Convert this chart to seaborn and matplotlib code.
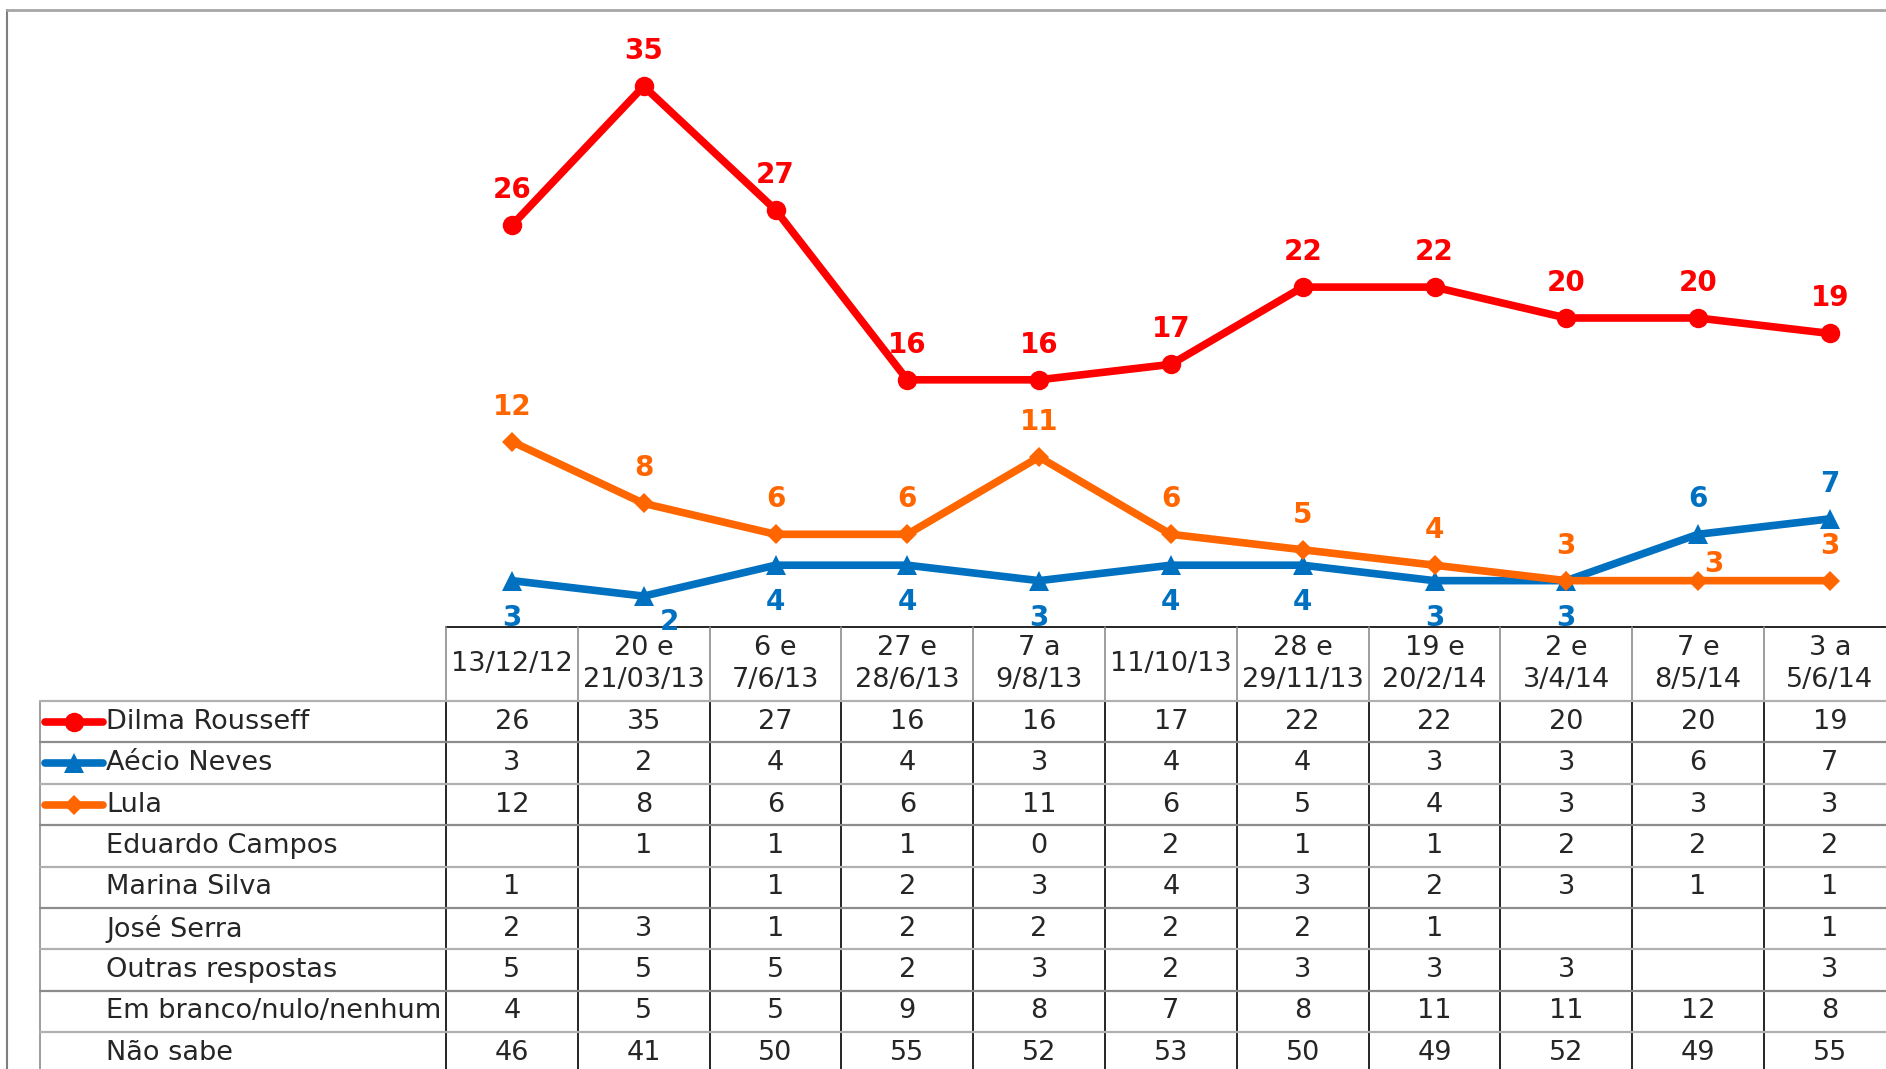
import numpy as np
import pandas as pd
import matplotlib.pyplot as plt
import seaborn as sns

# Survey dates (table header)
dates = ["13/12/12", "20 e\n21/03/13", "6 e\n7/6/13", "27 e\n28/6/13", "7 a\n9/8/13",
         "11/10/13", "28 e\n29/11/13", "19 e\n20/2/14", "2 e\n3/4/14", "7 e\n8/5/14",
         "3 a\n5/6/14"]

# Plotted series
dilma = [26, 35, 27, 16, 16, 17, 22, 22, 20, 20, 19]
aecio = [3, 2, 4, 4, 3, 4, 4, 3, 3, 6, 7]
lula = [12, 8, 6, 6, 11, 6, 5, 4, 3, 3, 3]

# Table-only rows (None = blank cell)
eduardo = [None, 1, 1, 1, 0, 2, 1, 1, 2, 2, 2]
marina = [1, None, 1, 2, 3, 4, 3, 2, 3, 1, 1]
serra = [2, 3, 1, 2, 2, 2, 2, 1, None, None, 1]
outras = [5, 5, 5, 2, 3, 2, 3, 3, 3, None, 3]
branco = [4, 5, 5, 9, 8, 7, 8, 11, 11, 12, 8]
nao_sabe = [46, 41, 50, 55, 52, 53, 50, 49, 52, 49, 55]

row_names = ["Dilma Rousseff", "Aécio Neves", "Lula", "Eduardo Campos", "Marina Silva",
             "José Serra", "Outras respostas", "Em branco/nulo/nenhum", "Não sabe"]
row_values = [dilma, aecio, lula, eduardo, marina, serra, outras, branco, nao_sabe]

RED, BLUE, ORANGE = "#ff0000", "#0070c0", "#ff6600"

sns.set_style("white")
plt.rcParams["font.family"] = ["DejaVu Sans"]

W, H = 1886, 1069
fig = plt.figure(figsize=(W / 100, H / 100), dpi=100)

# layout (pixels)
tab_left = 40
lab_right = 446
col_w = 131.8
head_top = 627
head_bot = 701
row_h = 41.4
plot_top = 9
n = len(dates)
TXT = 19.5
LW = 5.5

# table / frame axes in pixel coordinates
tab = fig.add_axes([0, 0, 1, 1])
tab.set_xlim(0, W)
tab.set_ylim(H, 0)
tab.axis("off")

# outer chart frame (partly cropped)
tab.plot([7, 7], [10, H], color="#7f7f7f", lw=1.5)
tab.plot([7, W], [10, 10], color="#a6a6a6", lw=2)

# chart axes
ax = fig.add_axes([lab_right / W, (H - head_top) / H, n * col_w / W, (head_top - plot_top) / H])
ax.patch.set_alpha(0)
idx = np.arange(n)

series = [
    ("Dilma Rousseff", dilma, RED, "o", 14, ["above"] * n),
    ("Aécio Neves", aecio, BLUE, "^", 14, ["below"] + ["below2"] + ["below"] * 7 + ["above"] * 2),
    ("Lula", lula, ORANGE, "D", 10.5, ["above"] * 9 + ["right"] + ["above"]),
]
offsets = {"above": (0, 35), "below": (0, -37), "below2": (26, -26), "right": (16, 17)}

for name, vals, col, mk, ms, pos in series:
    df = pd.DataFrame({"x": idx, "y": vals})
    sns.lineplot(data=df, x="x", y="y", ax=ax, color=col, lw=LW, marker=mk,
                 markersize=ms, markeredgewidth=0, legend=False)
    for i, v in enumerate(vals):
        dx, dy = offsets[pos[i]]
        ax.annotate(str(v), (i, v), xytext=(dx, dy), textcoords="offset pixels",
                    ha="center", va="center", color=col, fontsize=20,
                    fontweight="bold", annotation_clip=False)

ax.set_xlim(-0.5, n - 0.5)
ax.set_ylim(0, 40)
ax.set_xlabel("")
ax.set_ylabel("")
ax.set_xticks([])
ax.set_yticks([])
for s in ax.spines.values():
    s.set_visible(False)

# ---- data table ----
grid_gray = "#8c8c8c"
n_rows = len(row_names)
col_edges = [lab_right + k * col_w for k in range(n + 1)]

tab.plot([lab_right, W], [head_top, head_top], color="black", lw=1.2)
for x in col_edges:
    tab.plot([x, x], [head_top, head_bot], color=grid_gray, lw=1.2)
    tab.plot([x, x], [head_bot, H], color="black", lw=1.2)
tab.plot([tab_left, tab_left], [head_bot, H], color=grid_gray, lw=1.2)
for r in range(n_rows + 1):
    y = head_bot + r * row_h
    tab.plot([tab_left, W], [y, y], color=grid_gray if r % 2 else "#b0b0b0", lw=1.6)

for k, d in enumerate(dates):
    tab.text(col_edges[k] + col_w / 2, (head_top + head_bot) / 2, d, ha="center",
             va="center", fontsize=TXT, linespacing=1.3)

legend_style = {0: (RED, "o", 14), 1: (BLUE, "^", 14), 2: (ORANGE, "D", 10.5)}
for r, (name, vals) in enumerate(zip(row_names, row_values)):
    yc = head_bot + (r + 0.5) * row_h
    if r in legend_style:
        c, mk, ms = legend_style[r]
        tab.plot([45, 74, 103], [yc] * 3, color=c, lw=LW, marker=mk, markersize=ms,
                 markeredgewidth=0, markevery=[1])
    tab.text(106, yc, name, ha="left", va="center", fontsize=TXT)
    for k, v in enumerate(vals):
        if v is not None:
            tab.text(col_edges[k] + col_w / 2, yc, str(v), ha="center", va="center", fontsize=TXT)

fig.savefig("out.png", dpi=100)
